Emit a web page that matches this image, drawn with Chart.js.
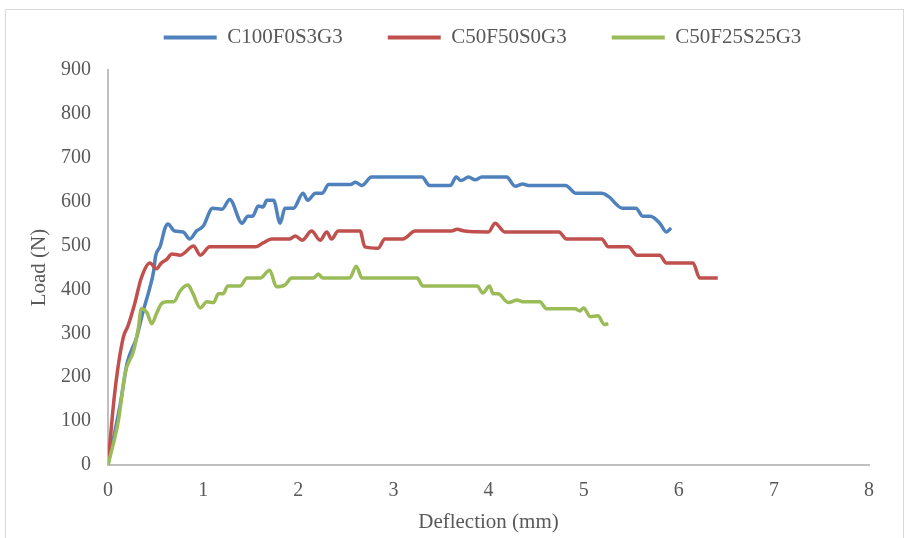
<!DOCTYPE html>
<html>
<head>
<meta charset="utf-8">
<script src="https://cdn.jsdelivr.net/npm/chart.js@4"></script>
<style>
  html, body { margin: 0; padding: 0; background: #ffffff; }
  #wrap { position: relative; width: 908px; height: 538px; overflow: hidden; }
  #frame { position: absolute; left: 5px; top: 9px; width: 899px; height: 540px; border: 1px solid #d9d9d9; box-sizing: border-box; }
  canvas { position: absolute; left: 0; top: 0; }
</style>
</head>
<body>
<div id="wrap">
  <div id="frame"></div>
  <canvas id="c" width="908" height="538"></canvas>
</div>
<script>
// ---- data ----
const seriesNames = ['C100F0S3G3', 'C50F50S0G3', 'C50F25S25G3'];

const deflectionA = [0,0.13,0.2,0.3,0.37,0.44,0.48,0.5,0.55,0.6,0.63,0.7,0.79,0.86,0.93,1.0,1.1,1.2,1.28,1.41,1.47,1.52,1.58,1.63,1.67,1.74,1.81,1.86,1.95,2.05,2.1,2.18,2.25,2.32,2.55,2.6,2.67,2.77,3.3,3.38,3.6,3.66,3.71,3.79,3.86,3.93,4.19,4.28,4.36,4.42,4.81,4.92,5.19,5.26,5.41,5.55,5.62,5.7,5.8,5.87,5.92];
const loadA       = [0,140,231,290,351,404,442,476,499,540,549,533,531,515,533,544,585,583,605,551,567,567,590,588,603,603,551,585,585,619,603,619,619,639,639,644,637,656,656,637,637,656,648,656,650,656,656,635,640,637,637,619,619,612,585,585,567,567,551,531,540];

const deflectionB = [0,0.07,0.16,0.21,0.28,0.35,0.44,0.51,0.56,0.62,0.67,0.76,0.9,0.97,1.07,1.55,1.63,1.72,1.91,1.97,2.04,2.14,2.23,2.3,2.35,2.42,2.65,2.7,2.84,2.91,3.1,3.23,3.61,3.67,3.75,4.0,4.07,4.17,4.74,4.82,5.19,5.26,5.47,5.56,5.8,5.87,6.15,6.22,6.41];
const loadB       = [0,163,290,317,367,426,460,447,460,469,481,478,499,478,497,497,506,515,515,522,512,533,512,531,515,533,533,497,494,515,515,533,533,537,533,531,551,531,531,515,515,497,497,478,478,460,460,426,426];

const deflectionC = [0,0.11,0.18,0.27,0.32,0.35,0.41,0.46,0.51,0.56,0.62,0.69,0.76,0.84,0.89,0.97,1.04,1.11,1.16,1.21,1.26,1.39,1.46,1.6,1.7,1.77,1.86,1.93,2.16,2.21,2.26,2.54,2.61,2.67,3.25,3.31,3.88,3.94,4.01,4.05,4.1,4.21,4.3,4.36,4.54,4.61,4.91,4.96,5.0,5.07,5.15,5.22,5.26];
const loadC       = [0,102,209,261,313,356,347,322,345,367,372,372,397,410,392,358,372,370,390,390,408,408,426,426,444,406,410,426,426,435,426,426,453,426,426,408,408,392,408,390,390,370,376,372,372,356,356,351,358,338,340,320,322];

const xTicks = [0,1,2,3,4,5,6,7,8];
const yTicks = [0,100,200,300,400,500,600,700,800,900];
const xTitle = 'Deflection (mm)';
const yTitle = 'Load (N)';

// ---- build ----
const colors = ['#4F81BD', '#C0504D', '#9BBB59'];
const xs = [deflectionA, deflectionB, deflectionC];
const ys = [loadA, loadB, loadC];
const toPts = (x, y) => x.map((v, i) => ({ x: v, y: y[i] }));

const textColor = '#595959';
const fontFamily = '"Liberation Serif", "Times New Roman", serif';

const legendShift = {
  id: 'legendShift',
  afterLayout(chart) {
    const l = chart.legend;
    if (l) { l.left += 48; l.right += 48; l.top -= 12; l.bottom -= 12; }
  }
};

new Chart(document.getElementById('c'), {
  type: 'line',
  data: {
    datasets: seriesNames.map((name, i) => ({
      label: name,
      data: toPts(xs[i], ys[i]),
      borderColor: colors[i],
      backgroundColor: colors[i],
      borderWidth: 3.5,
      pointRadius: 0,
      cubicInterpolationMode: 'monotone',
      fill: false,
      order: seriesNames.length - i
    }))
  },
  options: {
    responsive: false,
    animation: false,
    devicePixelRatio: 1,
    layout: { padding: { left: 0, right: 39, top: -6, bottom: 0 } },
    plugins: {
      tooltip: { enabled: false },
      legend: {
        position: 'top',
        align: 'center',
        labels: {
          color: textColor,
          font: { family: fontFamily, size: 21 },
          boxWidth: 53,
          boxHeight: 4,
          padding: 45,
          sort: (a, b) => a.datasetIndex - b.datasetIndex,
          generateLabels: (chart) =>
            Chart.defaults.plugins.legend.labels.generateLabels(chart).map(l => ({ ...l, lineWidth: 0, fillStyle: l.strokeStyle }))
        }
      }
    },
    scales: {
      x: {
        type: 'linear',
        min: 0, max: 8,
        afterBuildTicks: (s) => { s.ticks = xTicks.map(v => ({ value: v })); },
        afterFit: (s) => { s.height = 73; },
        grid: { display: false, drawTicks: false },
        border: { display: true, color: '#BFBFBF', width: 2 },
        ticks: { color: textColor, font: { family: fontFamily, size: 20 }, padding: 14, maxRotation: 0 },
        title: { display: true, text: xTitle, color: textColor, font: { family: fontFamily, size: 21 }, padding: { top: 0, bottom: 3 } }
      },
      y: {
        type: 'linear',
        min: 0, max: 900,
        afterBuildTicks: (s) => { s.ticks = yTicks.map(v => ({ value: v })); },
        afterFit: (s) => { s.width = 108; },
        grid: { display: false, drawTicks: false },
        border: { display: true, color: '#BFBFBF', width: 2 },
        ticks: { color: textColor, font: { family: fontFamily, size: 20 }, padding: 17 },
        title: { display: true, text: yTitle, color: textColor, font: { family: fontFamily, size: 21 }, padding: { top: 27, bottom: 0 } }
      }
    }
  },
  plugins: [legendShift]
});
</script>
</body>
</html>
